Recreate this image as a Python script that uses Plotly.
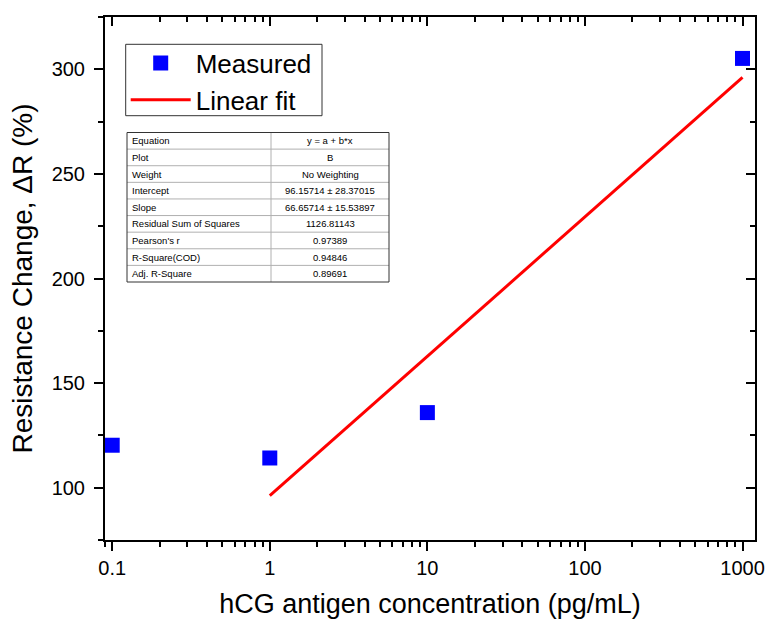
import plotly.graph_objects as go
import math

# ---- data ----
concentration = [0.1, 1, 10, 1000]          # pg/mL
resistance_change = [120.3, 114.2, 135.9, 305.2]  # %

fit_intercept = 96.15714
fit_slope = 66.65714
fit_x = [1, 1000]

x_tick_vals = [0.1, 1, 10, 100, 1000]
x_tick_text = ["0.1", "1", "10", "100", "1000"]
y_tick_vals = [100, 150, 200, 250, 300]

table_labels = ["Equation", "Plot", "Weight", "Intercept", "Slope",
                "Residual Sum of Squares", "Pearson's r", "R-Square(COD)", "Adj. R-Square"]
table_values = ["y = a + b*x", "B", "No Weighting", "96.15714 ± 28.37015",
                "66.65714 ± 15.53897", "1126.81143", "0.97389", "0.94846", "0.89691"]

fit_y = [fit_intercept + fit_slope * math.log10(v) for v in fit_x]

# ---- layout geometry ----
W, H = 766, 622
ML, MR, MT, MB = 105, 11, 17, 82
PW, PH = W - ML - MR, H - MT - MB

def px_x(px):
    return (px - ML) / PW

def px_y(py):
    return (H - MB - py) / PH

FONT = "Liberation Sans, Arial, sans-serif"
x_range = [math.log10(0.09), math.log10(1200)]
y_range = [75, 325]
minor_x = [0.09] + [m * 10 ** e for e in (-1, 0, 1, 2) for m in range(2, 10)]

fig = go.Figure()
fig.add_trace(go.Scatter(
    x=concentration, y=resistance_change, mode="markers", name="Measured",
    marker=dict(symbol="square", size=15, color="#0000FF",
                line=dict(color="#0000FF", width=0)),
    cliponaxis=False,
))
fig.add_trace(go.Scatter(
    x=fit_x, y=fit_y, mode="lines", name="Linear fit",
    line=dict(color="#FF0000", width=3),
))
# helper for mirrored axes (top/right, inward ticks)
fig.add_trace(go.Scatter(x=[], y=[], xaxis="x2", yaxis="y2", showlegend=False,
                         hoverinfo="skip"))

axis_common = dict(showline=True, linecolor="black", linewidth=2,
                   tickcolor="black", tickwidth=2, showgrid=False, zeroline=False)
minor_style = dict(tickcolor="black", tickwidth=2, ticklen=5)

fig.update_layout(
    width=W, height=H,
    margin=dict(l=ML, r=MR, t=MT, b=MB, autoexpand=False),
    paper_bgcolor="white", plot_bgcolor="white",
    font=dict(family=FONT, color="black"),
    xaxis=dict(
        type="log", range=x_range, tickvals=x_tick_vals, ticktext=x_tick_text,
        ticks="outside", ticklen=9, tickfont=dict(size=20),
        minor=dict(tickvals=minor_x, ticks="outside", **minor_style),
        title=dict(text="hCG antigen concentration (pg/mL)", font=dict(size=27),
                   standoff=16),
        automargin=False, **axis_common,
    ),
    yaxis=dict(
        range=y_range, tickvals=y_tick_vals, ticks="outside", ticklen=9,
        tickfont=dict(size=20), ticklabelstandoff=5,
        minor=dict(dtick=25, tick0=0, ticks="outside", **minor_style),
        title=dict(text="Resistance Change, ΔR (%)", font=dict(size=28),
                   standoff=11),
        automargin=False, **axis_common,
    ),
    xaxis2=dict(
        type="log", range=x_range, overlaying="x", side="top", anchor="y2",
        tickvals=x_tick_vals, ticks="inside", ticklen=9, showticklabels=False,
        minor=dict(tickvals=minor_x, ticks="inside", **minor_style),
        **axis_common,
    ),
    yaxis2=dict(
        range=y_range, overlaying="y", side="right", anchor="x2",
        tickvals=y_tick_vals, ticks="inside", ticklen=9, showticklabels=False,
        minor=dict(dtick=25, tick0=0, ticks="inside", **minor_style),
        **axis_common,
    ),
    legend=dict(
        x=px_x(125.7), y=px_y(39.5), xanchor="left", yanchor="top",
        bgcolor="rgba(0,0,0,0)", borderwidth=0,
        font=dict(size=26, family=FONT), itemwidth=60,
        tracegroupgap=0,
    ),
    showlegend=True,
)

shapes = []
# legend frame
shapes.append(dict(type="rect", xref="paper", yref="paper", layer="above",
                   x0=px_x(125.7), x1=px_x(322), y0=px_y(44.3), y1=px_y(115.7),
                   line=dict(color="#333333", width=1), fillcolor="white"))

# ---- fit results table (shapes + annotations) ----
t_left, t_right, t_mid = 127, 389, 271
t_top, t_bottom = 132.5, 282
n_rows = len(table_labels)
row_h = (t_bottom - t_top) / n_rows
for i in range(1, n_rows):
    yy = t_top + i * row_h
    shapes.append(dict(type="line", xref="paper", yref="paper",
                       x0=px_x(t_left), x1=px_x(t_right), y0=px_y(yy), y1=px_y(yy),
                       line=dict(color="#b0b0b0", width=1)))
shapes.append(dict(type="line", xref="paper", yref="paper",
                   x0=px_x(t_mid), x1=px_x(t_mid), y0=px_y(t_top), y1=px_y(t_bottom),
                   line=dict(color="#b0b0b0", width=1)))
shapes.append(dict(type="rect", xref="paper", yref="paper",
                   x0=px_x(t_left), x1=px_x(t_right), y0=px_y(t_top), y1=px_y(t_bottom),
                   line=dict(color="#333333", width=1), fillcolor="rgba(0,0,0,0)"))
fig.update_layout(shapes=shapes)

for i, (lab, val) in enumerate(zip(table_labels, table_values)):
    yc = t_top + (i + 0.5) * row_h
    fig.add_annotation(xref="paper", yref="paper", x=px_x(t_left + 3), y=px_y(yc),
                       text=lab, showarrow=False, xanchor="left", yanchor="middle",
                       font=dict(size=9.5, family=FONT, color="black"))
    fig.add_annotation(xref="paper", yref="paper", x=px_x((t_mid + t_right) / 2), y=px_y(yc),
                       text=val, showarrow=False, xanchor="center", yanchor="middle",
                       font=dict(size=9.5, family=FONT, color="black"))

fig.write_html("out.html")
